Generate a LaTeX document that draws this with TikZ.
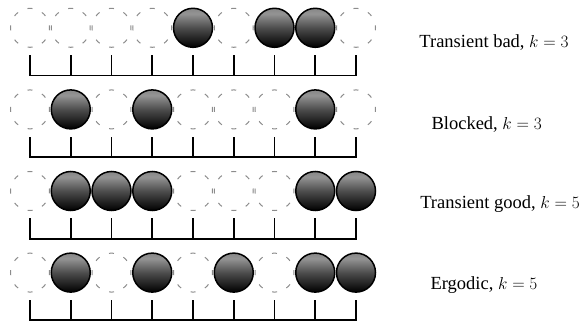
\documentclass[tikz,border=0pt]{standalone}
\usepackage{fontspec}
\setmainfont{Liberation Serif}
\pgfdeclareverticalshading{ballshade}{100bp}{color(0bp)=(black!85); color(8bp)=(black!60); color(14bp)=(black); color(25bp)=(black); color(50bp)=(black!70); color(68bp)=(black!42); color(82bp)=(black!52); color(100bp)=(black!80)}
\begin{document}
\begin{tikzpicture}[x=1pt,y=-1pt]
\useasboundingbox (0,0) rectangle (580,326);
\tikzset{
  slot/.style={circle, draw=black!45, dash pattern=on 5pt off 10.3pt, dash phase=2.5pt, line width=1pt, minimum size=39pt, inner sep=0pt},
  ball/.style={circle, draw=black, line width=1.5pt, minimum size=39pt, inner sep=0pt, shade, shading=ballshade},
  tickline/.style={line width=1.7pt, line cap=rect},
  lbl/.style={font=\rmfamily\fontsize{18.5}{22}\selectfont, anchor=base}
}
\foreach \row/\pattern in {0/{slot,slot,slot,slot,ball,slot,ball,ball,slot},
                          1/{slot,ball,slot,ball,slot,slot,slot,ball,slot},
                          2/{slot,ball,ball,ball,slot,slot,slot,ball,ball},
                          3/{slot,ball,slot,ball,slot,ball,slot,ball,ball}}{
  \pgfmathsetmacro{\cy}{27.8+81.6*\row}
  \pgfmathsetmacro{\yb}{75.5+81.6*\row}
  \pgfmathsetmacro{\yt}{\yb-19.5}
  \foreach \s [count=\j from 0] in \pattern {
    \pgfmathsetmacro{\cx}{30+40.75*\j}
    \coordinate (t\row-\j) at (\cx,\yt);
    \coordinate (b\row-\j) at (\cx,\yb);
    \draw[tickline] (t\row-\j) -- (b\row-\j);
  }
  \draw[tickline] (b\row-0) -- (b\row-8);
  \foreach \s [count=\j from 0] in \pattern {
    \pgfmathsetmacro{\cx}{30+40.75*\j}
    \def\test{slot}
    \ifx\s\test \node[slot] (c\row-\j) at (\cx,\cy) {}; \fi
  }
  \foreach \s [count=\j from 0] in \pattern {
    \pgfmathsetmacro{\cx}{30+40.75*\j}
    \def\test{ball}
    \ifx\s\test \node[ball] (c\row-\j) at (\cx,\cy) {}; \fi
  }
}
\node[lbl] (l0) at (494,47.7) {Transient bad, $k=3$};
\node[lbl] (l1) at (486.7,129.3) {Blocked, $k=3$};
\node[lbl] (l2) at (500,208) {Transient good, $k=5$};
\node[lbl] (l3) at (484,289) {Ergodic, $k=5$};
\end{tikzpicture}
\end{document}
